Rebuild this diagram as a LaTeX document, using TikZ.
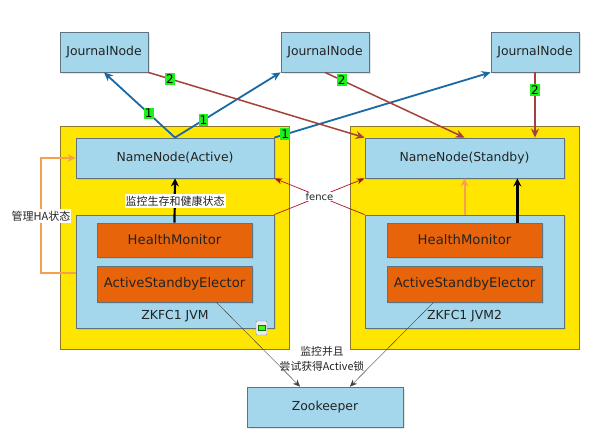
\documentclass[tikz,border=0pt]{standalone}
\usepackage{fontspec}
\setmainfont{DejaVu Sans}
\newfontfamily\cjk{Noto Sans CJK SC}
\usetikzlibrary{arrows.meta,calc,shadows}
\definecolor{boxblue}{RGB}{164,215,236}
\definecolor{boxedge}{RGB}{95,115,125}
\definecolor{ybox}{RGB}{255,230,0}
\definecolor{yedge}{RGB}{140,120,40}
\definecolor{obox}{RGB}{232,100,10}
\definecolor{jblue}{RGB}{25,105,165}
\definecolor{jred}{RGB}{165,65,60}
\definecolor{fred}{RGB}{170,20,30}
\definecolor{hao}{RGB}{245,160,80}
\definecolor{lgreen}{RGB}{30,240,30}
\definecolor{txt}{RGB}{35,35,35}
\begin{document}
\begin{tikzpicture}[x=1pt,y=-1pt,
  bluebox/.style={draw=boxedge,fill=boxblue,line width=0.8pt,inner sep=0pt,
    drop shadow={opacity=0.2,shadow xshift=1.5pt,shadow yshift=-1.5pt},
    text=txt,font=\fontsize{12.4}{14}\selectfont},
  ybx/.style={draw=yedge,fill=ybox,line width=0.8pt,inner sep=0pt},
  orbox/.style={draw=boxedge,fill=obox,line width=0.8pt,inner sep=0pt,
    drop shadow={opacity=0.2,shadow xshift=1.5pt,shadow yshift=-1.5pt},
    text=txt,font=\fontsize{13.2}{15}\selectfont,minimum width=155pt},
  numlab/.style={fill=lgreen,inner xsep=1pt,inner ysep=1.5pt,text=black,font=\fontsize{12}{12}\selectfont},
  bluearr/.style={draw=jblue,line width=1.8pt,-{Stealth[length=9pt,width=8pt]}},
  redarr/.style={draw=jred,line width=1.5pt,-{Stealth[length=9pt,width=8pt]}},
  fencearr/.style={draw=fred,line width=0.7pt,-{Stealth[length=8pt,width=6pt]}},
  blackarr/.style={draw=black,line width=2.2pt,-{Stealth[length=8pt,width=8pt]}},
  orarr/.style={draw=hao,line width=2pt,-{Stealth[length=8pt,width=8pt]}},
  grayarr/.style={draw=black!75,line width=0.4pt,-{Stealth[length=7pt,width=6pt]}},
  cjklab/.style={fill=white,inner xsep=1pt,inner ysep=1.5pt,text=txt,font=\cjk\fontsize{11}{13}\selectfont}
]
\useasboundingbox[fill=white] (0,0) rectangle (598,447);

% journal nodes
\node[bluebox,minimum width=88pt,minimum height=40pt] (JN1) at (104,52) {JournalNode};
\node[bluebox,minimum width=88pt,minimum height=40pt] (JN2) at (325,52) {JournalNode};
\node[bluebox,minimum width=88pt,minimum height=40pt] (JN3) at (535,52) {JournalNode};

% yellow containers
\node[ybx,minimum width=229pt,minimum height=223pt] (Y1) at (174.5,237.5) {};
\node[ybx,minimum width=229pt,minimum height=223pt] (Y2) at (464.5,237.5) {};

% namenodes
\node[bluebox,minimum width=198pt,minimum height=40pt] (NN1) at (175,158) {NameNode(Active)};
\node[bluebox,minimum width=199pt,minimum height=40pt] (NN2) at (464.5,158) {NameNode(Standby)};

% zkfc boxes
\node[bluebox,minimum width=198pt,minimum height=113pt] (Z1) at (175,271.5) {};
\node[bluebox,minimum width=199pt,minimum height=113pt] (Z2) at (464.5,271.5) {};
\node[text=txt,font=\fontsize{12.4}{14}\selectfont,inner sep=0pt] (Z1t) at (175,316) {ZKFC1 JVM};
\node[text=txt,font=\fontsize{12.4}{14}\selectfont,inner sep=0pt] (Z2t) at (464.5,316) {ZKFC1 JVM2};

\node[orbox,minimum height=34pt] (HM1) at (174.5,240) {HealthMonitor};
\node[orbox,minimum height=36pt] (ASE1) at (174.5,284) {ActiveStandbyElector};
\node[orbox,minimum height=34pt] (HM2) at (464.5,240) {HealthMonitor};
\node[orbox,minimum height=36pt] (ASE2) at (464.5,284) {ActiveStandbyElector};

% zookeeper
\node[bluebox,minimum width=156pt,minimum height=40pt] (ZK) at (325,407) {Zookeeper};

% collapse icon
\draw[draw=black!45,fill=black!8,rounded corners=1pt] (256,321) rectangle (267,335);
\draw[draw=green!45!black,fill=lgreen!80!yellow,line width=0.4pt] (258,325.5) rectangle (265,330);

% blue (write) arrows
\draw[bluearr] (NN1.north) -- node[pos=0.37,numlab]{1} (JN1.south);
\draw[bluearr] (NN1.north) -- node[pos=0.27,numlab]{1} (JN2.south west);
\draw[bluearr] (NN1.north east) -- node[pos=0.05,numlab]{1} (JN3.south west);

% red (read) arrows
\draw[redarr] (JN1.south east) -- node[pos=0.10,numlab]{2} (NN2.north west);
\draw[redarr] (JN2.south) -- node[pos=0.12,numlab]{2} (NN2.north);
\draw[redarr] (JN3.south) -- node[pos=0.27,numlab]{2} (JN3.south |- NN2.north);

% fence
\draw[fencearr] (Z2.north west) -- (NN1.south east);
\draw[fencearr] (Z1.north east) -- (NN2.south west);
\node[fill=white,inner xsep=1pt,inner ysep=0.5pt,text=txt,font=\fontsize{10}{12}\selectfont] (fence) at ($(Z2.north west)!0.5!(NN1.south east)$) {fence};

% health monitoring
\draw[blackarr] (HM1.north) -- (NN1.south);
\node[cjklab] (mon) at (175,201) {监控生存和健康状态};
\draw[blackarr] ([xshift=-25pt]HM2.north east) -- ([xshift=-25pt]HM2.north east |- NN2.south);
\draw[orarr] (Z2.north) -- (NN2.south);

% HA state management
\draw[orarr] ([yshift=-1.5pt]Z1.west) -- ++(-35,0) |- (NN1.west);
\node[cjklab] (ha) at (41,216) {管理HA状态};

% zookeeper links
\draw[grayarr] ([xshift=42pt]ASE1.south) -- ([xshift=-25pt]ZK.north);
\draw[grayarr] ([xshift=-31pt]ASE2.south) -- ([xshift=25pt]ZK.north);
\node[text=txt,font=\cjk\fontsize{10.8}{15}\selectfont,align=center,inner sep=0pt] (zkl) at (322,358.5) {监控并且\\尝试获得Active锁};
\end{tikzpicture}
\end{document}
